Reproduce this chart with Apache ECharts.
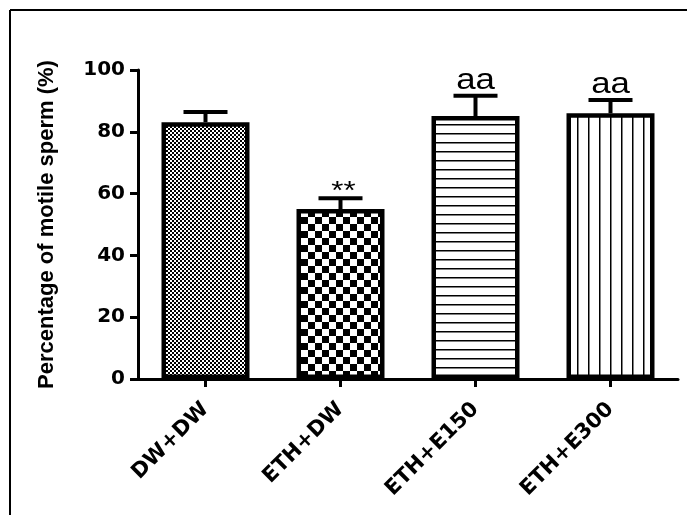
<!DOCTYPE html>
<html>
<head>
<meta charset="utf-8">
<script src="https://cdn.jsdelivr.net/npm/echarts@6/dist/echarts.min.js"></script>
<style>
html,body{margin:0;padding:0;background:#fff;}
#chart{width:687px;height:515px;}
</style>
</head>
<body>
<div id="chart"></div>
<script>
const categories = ['DW+DW', 'ETH+DW', 'ETH+E150', 'ETH+E300'];
const means = [83.1, 55.0, 85.1, 86.0];
const errors = [3.3, 3.5, 6.6, 4.3];
const annotations = ['', '**', 'aa', 'aa'];
const yTicks = [0, 20, 40, 60, 80, 100];
const yTitle = 'Percentage of motile sperm (%)';

function makePattern(kind) {
  const c = document.createElement('canvas');
  const ctx = c.getContext('2d');
  if (kind === 'fineChecker') {
    c.width = 4; c.height = 4;
    ctx.fillStyle = '#fff'; ctx.fillRect(0, 0, 4, 4);
    ctx.fillStyle = '#000'; ctx.fillRect(0, 0, 2, 2); ctx.fillRect(2, 2, 2, 2);
  } else if (kind === 'checker') {
    c.width = 14; c.height = 14;
    ctx.fillStyle = '#fff'; ctx.fillRect(0, 0, 14, 14);
    ctx.fillStyle = '#000'; ctx.fillRect(0, 0, 7, 7); ctx.fillRect(7, 7, 7, 7);
  } else if (kind === 'hlines') {
    c.width = 10; c.height = 9;
    ctx.fillStyle = '#fff'; ctx.fillRect(0, 0, 10, 9);
    ctx.fillStyle = '#000'; ctx.fillRect(0, 7, 10, 1.5);
  } else {
    c.width = 11; c.height = 10;
    ctx.fillStyle = '#fff'; ctx.fillRect(0, 0, 11, 10);
    ctx.fillStyle = '#000'; ctx.fillRect(5, 0, 1.5, 10);
  }
  return { image: c, repeat: 'repeat' };
}
const patternKinds = ['fineChecker', 'checker', 'hlines', 'vlines'];

const chart = echarts.init(document.getElementById('chart'), null, { renderer: 'canvas' });

const option = {
  backgroundColor: '#fff',
  animation: false,
  grid: { left: 138, right: 9, top: 70, bottom: 136, containLabel: false },
  xAxis: {
    type: 'category',
    data: categories,
    axisLine: { lineStyle: { color: '#000', width: 3 } },
    axisTick: { show: true, alignWithLabel: true, length: 8, lineStyle: { color: '#000', width: 3 } },
    axisLabel: {
      rotate: 45, margin: 27, color: '#000',
      fontFamily: 'DejaVu Sans', fontWeight: 'bold', fontSize: 21
    }
  },
  yAxis: {
    type: 'value', min: 0, max: 100, interval: 20,
    name: yTitle, nameLocation: 'middle', nameRotate: 90, nameGap: 80,
    nameTextStyle: { fontFamily: 'Liberation Sans', fontWeight: 'bold', fontSize: 22, color: '#000' },
    axisLine: { show: true, lineStyle: { color: '#000', width: 3 } },
    axisTick: { show: true, length: 8, lineStyle: { color: '#000', width: 3 } },
    splitLine: { show: false },
    axisLabel: {
      margin: 13, color: '#000',
      fontFamily: 'DejaVu Sans', fontWeight: 'bold', fontSize: 20,
      formatter: v => (yTicks.indexOf(v) >= 0 ? String(v) : '')
    }
  },
  series: [
    {
      type: 'bar',
      barWidth: 88,
      data: means.map((v, i) => ({
        value: v,
        itemStyle: { color: makePattern(patternKinds[i]), borderColor: '#000', borderWidth: 4.5 }
      })),
      z: 2
    },
    {
      type: 'custom',
      z: 5,
      data: means.map((v, i) => [i, v, v + errors[i], annotations[i]]),
      renderItem: function (params, api) {
        const i = api.value(0);
        const base = api.coord([i, api.value(1)]);
        const top = api.coord([i, api.value(2)]);
        const half = 22;
        const children = [
          { type: 'line', shape: { x1: base[0], y1: base[1], x2: top[0], y2: top[1] }, style: { stroke: '#000', lineWidth: 4 } },
          { type: 'line', shape: { x1: top[0] - half, y1: top[1], x2: top[0] + half, y2: top[1] }, style: { stroke: '#000', lineWidth: 4 } }
        ];
        const txt = annotations[params.dataIndex];
        if (txt) {
          const isStar = txt === '**';
          children.push({
            type: 'text',
            x: top[0] + (isStar ? 3 : 0), y: top[1] + (isStar ? 7 : 0),
            scaleX: 1.2,
            style: {
              text: txt, fill: '#000', align: 'center', verticalAlign: 'bottom',
              font: (isStar ? '26px' : '29px') + ' "Liberation Sans", Arial, sans-serif'
            }
          });
        }
        return { type: 'group', children: children };
      }
    }
  ],
  graphic: [
    { type: 'line', shape: { x1: 10, y1: 10, x2: 10, y2: 515 }, style: { stroke: '#000', lineWidth: 2 } },
    { type: 'line', shape: { x1: 10, y1: 10, x2: 687, y2: 10 }, style: { stroke: '#000', lineWidth: 2 } }
  ]
};
chart.setOption(option);
</script>
</body>
</html>
